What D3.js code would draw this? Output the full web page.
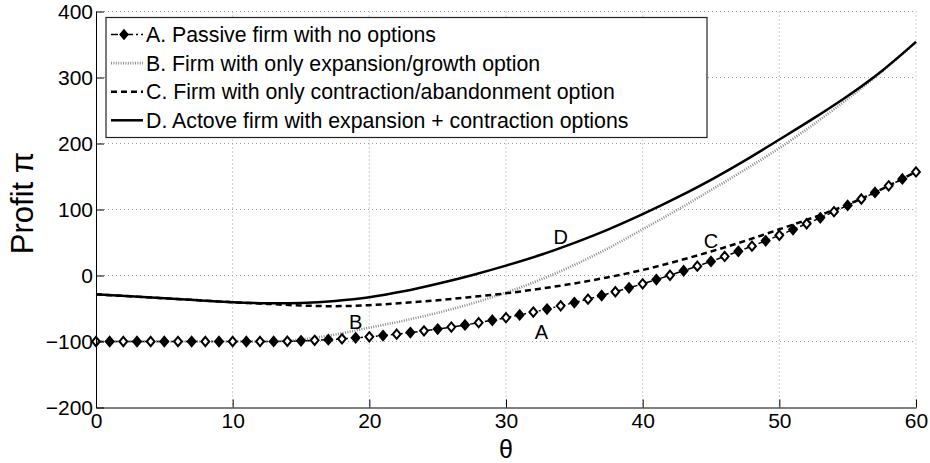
<!DOCTYPE html>
<html>
<head>
<meta charset="utf-8">
<script src="https://cdn.jsdelivr.net/npm/d3@7"></script>
<style>
    body { margin: 0; background: #fff; }
    svg { display: block; font-family: "Liberation Sans", Arial, Helvetica, sans-serif; }
</style>
</head>
<body>
<svg id="chart" width="930" height="463"></svg>
<script>
/*theta for the passive firm, one marker per unit*/
const thetaA = [0,1,2,3,4,5,6,7,8,9,10,11,12,13,14,15,16,17,18,19,20,21,22,23,24,25,26,27,28,29,30,
    31,32,33,34,35,36,37,38,39,40,41,42,43,44,45,46,47,48,49,50,51,52,53,54,55,56,57,58,59,60];
const profitA = [-100,-100,-100,-100,-100,-100,-100,-100,-100,-100,-100,-100,-100,
    -99.9,-99.6,-99.0,-98.2,-97.2,-96.0,-94.5,-92.9,-91.0,-88.9,-86.5,-83.9,-81.2,-78.1,-74.9,-71.5,-67.8,
    -63.9,-59.7,-55.4,-50.8,-46.0,-41.0,-35.8,-30.3,-24.6,-18.7,-12.6,-6.2,0.4,7.2,14.2,21.4,28.9,36.6,
    44.5,52.6,61.0,69.6,78.4,87.4,96.7,106.2,115.9,125.8,135.9,146.3,156.9];

/*theta for the three option curves*/
const thetaCurve = [0,2.5,5,7.5,10,12.5,15,17.5,20,22.5,25,27.5,30,32.5,35,37.5,40,42.5,45,47.5,50,52.5,55,57.5,60];
const profitB = [-100,-100,-100,-100,-100,-100,-97,-89.5,-79,-68.5,-56.5,-42.5,-26,-6.5,16,41.5,70,99,129.5,160.5,193,229,267.5,309,354];
const profitC = [-28.5,-31.5,-34.5,-37.5,-40.5,-43,-45.5,-46.5,-45,-41.5,-37.5,-32.5,-27,-20,-12,-2.5,8.4,21.7,36.4,52.5,70,88,107.5,131,157];
const profitD = [-28.5,-31.5,-34.5,-37.5,-40.5,-42,-41.5,-38.5,-33,-24,-12.5,0.5,15,31,49.5,70,93,118,145,174.5,206,238,272,310,354];

const xTicks = [0,10,20,30,40,50,60];
const yTicks = [-200,-100,0,100,200,300,400];

const legendLabels = [
    'A. Passive firm with no options',
    'B. Firm with only expansion/growth option',
    'C. Firm with only contraction/abandonment option',
    'D. Actove firm with expansion + contraction options'
];

/*letters written next to the curves*/
const curveNames = ['A','B','C','D'];
const curveNameTheta = [32.6, 19.0, 45.0, 34.0];
const curveNameProfit = [-96.7, -81, 41.7, 47.7];

class ProfitChart {
    constructor(id) {
        this.svg = d3.select(id);
        this.fontFamily = '"Liberation Sans", Arial, Helvetica, sans-serif';
        this.x = d3.scaleLinear().domain([0, 60]).range([96, 916]);
        this.y = d3.scaleLinear().domain([-200, 400]).range([407.5, 11.5]);
        this.line = d3.line()
            .x(d => this.x(d[0]))
            .y(d => this.y(d[1]))
            .curve(d3.curveCatmullRom.alpha(0.5));
        /*styles of the four series*/
        this.styles = [
            {stroke: '#000', width: 1.5, dash: '7,3,2,3'},
            {stroke: '#8c8c8c', width: 2.6, dash: '1,1.4'},
            {stroke: '#000', width: 2.5, dash: '6,4'},
            {stroke: '#000', width: 2.5, dash: null}
        ];
        this.diamond = 'M0,-4.6L3.9,0L0,4.6L-3.9,0Z';
    }

    draw() {
        this.drawGrid();
        this.drawCurves();
        this.drawAxes();
        this.drawNames();
        this.drawLegend();
    }

    drawGrid() {
        let grid = this.svg.append('g')
            .attr('stroke', '#a0a0a0')
            .attr('stroke-width', 1)
            .attr('stroke-dasharray', '1,3');
        grid.selectAll('line.gx')
            .data(xTicks.slice(1))
            .enter().append('line')
                .attr('class', 'gx')
                .attr('x1', d => this.x(d)).attr('x2', d => this.x(d))
                .attr('y1', this.y(400)).attr('y2', this.y(-200));
        grid.selectAll('line.gy')
            .data(yTicks.slice(1))
            .enter().append('line')
                .attr('class', 'gy')
                .attr('x1', this.x(0)).attr('x2', this.x(60))
                .attr('y1', d => this.y(d)).attr('y2', d => this.y(d));
    }

    drawAxes() {
        let bottom = this.svg.append('g')
            .attr('transform', `translate(0,${this.y(-200)})`)
            .call(d3.axisBottom(this.x).tickValues(xTicks).tickSize(-8).tickSizeOuter(0).tickPadding(6));
        let left = this.svg.append('g')
            .attr('transform', `translate(${this.x(0)},0)`)
            .call(d3.axisLeft(this.y).tickValues(yTicks).tickSize(-8).tickSizeOuter(0).tickPadding(3));
        [bottom, left].forEach(g => {
            g.attr('font-size', 21).attr('font-family', this.fontFamily);
            g.selectAll('text').attr('fill', '#000');
            g.selectAll('line, path').attr('stroke', '#000').attr('stroke-width', 1);
        });

        this.svg.append('text')
            .attr('x', this.x(30)).attr('y', 457.5)
            .attr('text-anchor', 'middle')
            .attr('font-size', 25)
            .text('θ');
        this.svg.append('text')
            .attr('transform', 'translate(33,203) rotate(-90)')
            .attr('text-anchor', 'middle')
            .attr('font-size', 31)
            .text('Profit π');
    }

    drawCurves() {
        let series = [
            d3.zip(thetaA, profitA),
            d3.zip(thetaCurve, profitB),
            d3.zip(thetaCurve, profitC),
            d3.zip(thetaCurve, profitD)
        ];
        let curves = this.svg.append('g').attr('fill', 'none');
        series.forEach((s, i) => {
            curves.append('path')
                .attr('d', this.line(s))
                .attr('stroke', this.styles[i].stroke)
                .attr('stroke-width', this.styles[i].width)
                .attr('stroke-dasharray', this.styles[i].dash);
        });
        /*diamond markers of the passive firm*/
        curves.selectAll('path.marker')
            .data(series[0])
            .enter().append('path')
                .attr('class', 'marker')
                .attr('d', this.diamond)
                .attr('transform', d => `translate(${this.x(d[0])},${this.y(d[1])})`)
                .attr('stroke', '#000')
                .attr('stroke-width', 2)
                .attr('fill', (d, i) => i % 2 ? '#000' : '#fff');
    }

    drawNames() {
        this.svg.append('g')
            .selectAll('text')
            .data(curveNames)
            .enter().append('text')
                .attr('x', (d, i) => this.x(curveNameTheta[i]))
                .attr('y', (d, i) => this.y(curveNameProfit[i]))
                .attr('text-anchor', 'middle')
                .attr('font-size', 20)
                .text(d => d);
    }

    drawLegend() {
        let legend = this.svg.append('g').attr('transform', 'translate(106,17.5)');
        legend.append('rect')
            .attr('width', 601).attr('height', 120)
            .attr('fill', '#fff')
            .attr('stroke', '#222')
            .attr('stroke-width', 1.2);
        let rows = legend.selectAll('g.row')
            .data(legendLabels)
            .enter().append('g')
                .attr('class', 'row')
                .attr('transform', (d, i) => `translate(0,${17 + i * 28.6})`);
        rows.append('line')
            .attr('x1', 5).attr('x2', 37)
            .attr('stroke', (d, i) => this.styles[i].stroke)
            .attr('stroke-width', (d, i) => this.styles[i].width)
            .attr('stroke-dasharray', (d, i) => this.styles[i].dash);
        rows.filter((d, i) => i == 0).append('path')
            .attr('d', this.diamond)
            .attr('transform', 'translate(18,0)')
            .attr('fill', '#000').attr('stroke', '#000').attr('stroke-width', 1.5);
        rows.append('text')
            .attr('x', 40).attr('y', 7.5)
            .attr('font-size', 21.3)
            .text(d => d);
    }
}

window.addEventListener('load', function() {
    let chart = new ProfitChart('#chart');
    chart.draw();
});
</script>
</body>
</html>
